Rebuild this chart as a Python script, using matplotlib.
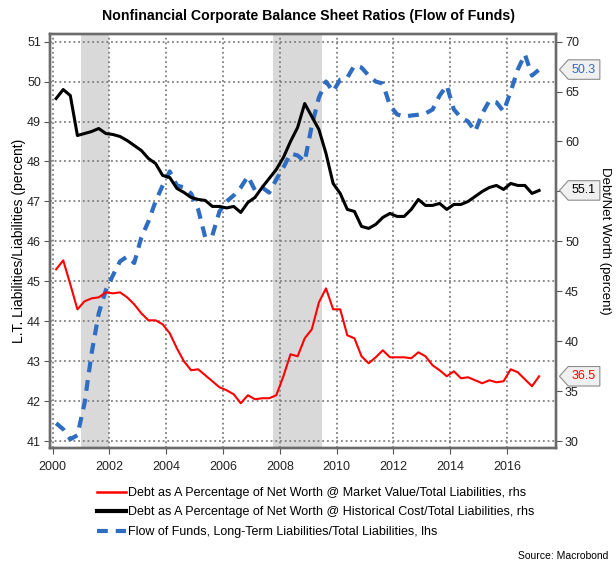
import numpy as np
import pandas as pd
import matplotlib
matplotlib.use("Agg")
import matplotlib.pyplot as plt
from matplotlib.path import Path
from matplotlib.lines import Line2D

plt.rcParams['font.family'] = ['Liberation Sans', 'DejaVu Sans']

# ---------------- data ----------------
quarters = pd.period_range('2000Q1', '2017Q1', freq='Q')

# Debt as % of net worth @ market value (rhs)
debt_market = [47.2, 48.1, 45.7, 43.2, 44.0, 44.3, 44.4, 44.9,
               44.8, 44.9, 44.4, 43.7, 42.8, 42.1, 42.1, 41.7,
               40.8, 39.3, 38.0, 37.1, 37.2, 36.6, 36.0, 35.4,
               35.1, 34.7, 33.8, 34.6, 34.2, 34.3, 34.3, 34.6,
               36.5, 38.7, 38.5, 40.3, 41.2, 43.9, 45.3, 43.2,
               43.2, 40.6, 40.3, 38.5, 37.8, 38.4, 39.1, 38.4,
               38.4, 38.4, 38.3, 38.9, 38.5, 37.6, 37.1, 36.5,
               37.0, 36.3, 36.4, 36.1, 35.8, 36.1, 35.9, 36.0,
               37.2, 36.9, 36.2, 35.5, 36.5]

# Debt as % of net worth @ historical cost (rhs)
debt_hist = [64.3, 65.2, 64.6, 60.6, 60.8, 61.0, 61.3, 60.8,
             60.7, 60.5, 60.1, 59.6, 59.1, 58.3, 57.8, 56.6,
             56.4, 55.3, 54.9, 54.4, 54.2, 54.1, 53.5, 53.5,
             53.35, 53.5, 52.9, 53.9, 54.4, 55.4, 56.3, 57.2,
             58.4, 60.0, 61.4, 63.8, 62.5, 61.2, 58.8, 55.8,
             54.8, 53.2, 53.0, 51.5, 51.3, 51.7, 52.4, 52.8,
             52.5, 52.5, 53.2, 54.2, 53.6, 53.6, 53.8, 53.2,
             53.7, 53.7, 54.0, 54.5, 55.0, 55.4, 55.6, 55.2,
             55.8, 55.6, 55.6, 54.8, 55.1]

# Flow of funds, long-term liabilities / total liabilities (lhs)
lt_liab = [41.45, 41.3, 41.05, 41.15, 41.95, 43.2, 44.2, 44.78,
           45.15, 45.5, 45.62, 45.46, 46.1, 46.5, 47.0, 47.4,
           47.75, 47.4, 47.35, 47.2, 46.8, 46.1, 46.15, 46.75,
           47.0, 47.15, 47.35, 47.63, 47.28, 47.35, 47.22, 47.55,
           47.85, 48.2, 48.15, 48.0, 48.9, 49.6, 50.0, 49.75,
           50.05, 50.1, 50.4, 50.35, 50.15, 50.0, 49.95, 49.4,
           49.18, 49.12, 49.15, 49.17, 49.2, 49.3, 49.65, 49.9,
           49.3, 49.1, 49.0, 48.75, 49.2, 49.52, 49.48, 49.25,
           49.75, 50.3, 50.68, 50.15, 50.3]

recessions = [(2001.0, 2002.0), (2007.75, 2009.5)]

x_ticks = list(range(2000, 2017, 2))
left_ticks = list(range(41, 52))
right_ticks = list(range(30, 71, 5))
right_ticklabels = ['30', '35', '40', '45', '50', '', '60', '65', '70']  # 55 hidden under the tag

labels = ["Debt as A Percentage of Net Worth @ Market Value/Total Liabilities, rhs",
          "Debt as A Percentage of Net Worth @ Historical Cost/Total Liabilities, rhs",
          "Flow of Funds, Long-Term Liabilities/Total Liabilities, lhs"]

title = "Nonfinancial Corporate Balance Sheet Ratios (Flow of Funds)"

RED = '#FF0000'
BLACK = '#000000'
BLUE = '#2F6DC2'
FRAME = '#6B6B6B'
GRIDC = '#7F7F7F'

# decimal-year positions (mid quarter)
t = np.array([p.year + (p.quarter - 0.5) / 4.0 for p in quarters])

fig = plt.figure(figsize=(6.16, 5.64), dpi=100)
W, H = 616, 564
L, R, T, B = 50, 556, 34, 448
ax = fig.add_axes([L / W, 1 - B / H, (R - L) / W, (B - T) / H])
ax2 = ax.twinx()

ax.set_xlim(1999.91, 2017.72)
ax.set_ylim(40.83, 51.19)
ax2.set_ylim(4 * 40.83 - 134, 4 * 51.19 - 134)

for a, b in recessions:
    ax.axvspan(a, b, color='#D9D9D9', lw=0, zorder=0)

ax.set_xticks(x_ticks)
ax.set_yticks(left_ticks)
ax2.set_yticks(right_ticks)
ax2.set_yticklabels(right_ticklabels)
ax.grid(True, color=GRIDC, linestyle=(0, (1, 1.6)), linewidth=1.3, zorder=1)
ax.set_axisbelow(True)

ax.plot(t, lt_liab, color=BLUE, lw=3.0, linestyle=(0, (2.6, 1.9)),
        dash_capstyle='butt', zorder=3)
ax2.plot(t, debt_hist, color=BLACK, lw=2.2, zorder=3)
ax2.plot(t, debt_market, color=RED, lw=1.5, zorder=3)

for a in (ax, ax2):
    for s in a.spines.values():
        s.set_color(FRAME)
        s.set_linewidth(1.7)
    a.tick_params(direction='out', length=4.5, width=0.8, color='#555555',
                  labelsize=9, labelcolor='#222222', pad=2)
ax.tick_params(axis='x', pad=4.5)

ax.set_ylabel("L.T. Liabilities/Liabilities (percent)", fontsize=10, labelpad=1)
ax2.set_ylabel("Debt/Net Worth (percent)", fontsize=9.5, rotation=270, labelpad=23)
fig.text(308 / W, 1 - 16 / H, title, ha='center', va='center',
         fontsize=10.2, fontweight='bold')


def tagbox(x0, y0, width, height, mutation_size):
    pad = 0.3 * mutation_size
    x0 -= pad; y0 -= pad
    width += 2 * pad; height += 2 * pad
    tip = height * 0.45
    verts = [(x0 - tip, y0 + height / 2), (x0, y0 + height), (x0 + width, y0 + height),
             (x0 + width, y0), (x0, y0), (x0 - tip, y0 + height / 2)]
    codes = [Path.MOVETO] + [Path.LINETO] * 4 + [Path.CLOSEPOLY]
    return Path(verts, codes)


def tag(axis, val, color):
    axis.annotate(f"{val:.1f}", xy=(1, val), xycoords=('axes fraction', 'data'),
                  xytext=(11.5, 0), textcoords='offset points', ha='left', va='center',
                  fontsize=9, color=color, annotation_clip=False, zorder=10,
                  bbox=dict(boxstyle=tagbox, fc='#F0F0F0', ec='#8C8C8C', lw=0.8))


tag(ax, lt_liab[-1], BLUE)
tag(ax2, debt_hist[-1], BLACK)
tag(ax2, debt_market[-1], RED)

handles = [Line2D([], [], color=RED, lw=1.8),
           Line2D([], [], color=BLACK, lw=3.0),
           Line2D([], [], color=BLUE, lw=3.0, linestyle=(0, (2.6, 1.9)))]
fig.legend(handles, labels, loc='upper left', bbox_to_anchor=(97 / W, 1 - 487 / H),
           frameon=False, fontsize=9, handlelength=2.3, handletextpad=0.2,
           labelspacing=0.6, borderpad=0, borderaxespad=0)

fig.text(608 / W, 1 - 556 / H, "Source: Macrobond", ha='right', va='center', fontsize=7.5)

fig.savefig("out.png", dpi=100)
